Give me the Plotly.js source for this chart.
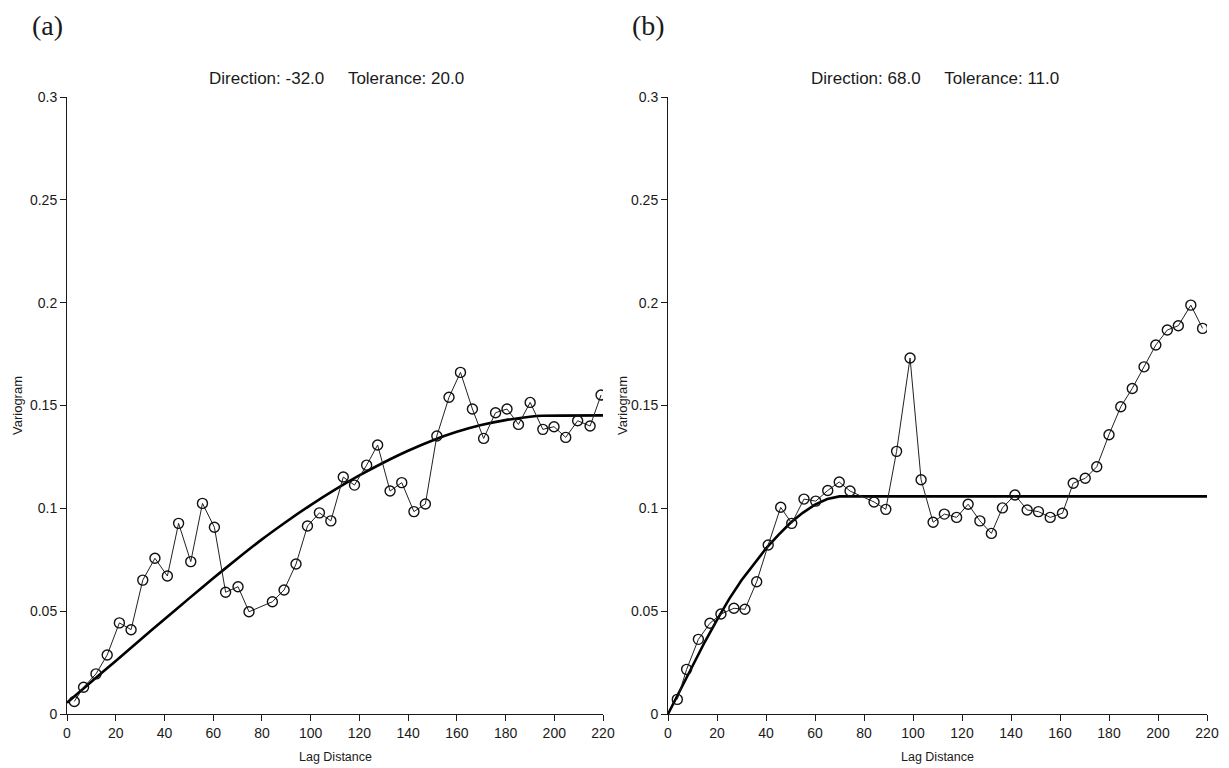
<!DOCTYPE html>
<html>
<head>
<meta charset="utf-8">
<script src="https://cdn.plot.ly/plotly-3.0.1.min.js"></script>
<style>html,body{margin:0;padding:0;background:#fff;}#chart{width:1229px;height:768px;}</style>
</head>
<body>
<div id="chart"></div>
<script>
// Panel (a): experimental variogram, Direction -32.0, Tolerance 20.0
var lagA = [3.0, 6.8, 11.9, 16.5, 21.5, 26.3, 31.1, 36.1, 41.2, 45.8, 50.8, 55.6, 60.5, 65.1, 70.2, 74.7,
            84.3, 89.1, 94.0, 98.7, 103.6, 108.3, 113.4, 118.0, 123.0, 127.5, 132.6, 137.4, 142.4, 147.1,
            151.8, 156.8, 161.5, 166.4, 171.0, 175.9, 180.6, 185.3, 190.1, 195.3, 199.9, 204.7, 209.6, 214.7, 219.2];
var gammaA = [0.0061, 0.0130, 0.0195, 0.0287, 0.0443, 0.0410, 0.0651, 0.0757, 0.0671, 0.0927, 0.0741, 0.1024, 0.0908, 0.0592, 0.0619, 0.0497,
              0.0546, 0.0603, 0.0729, 0.0914, 0.0978, 0.0939, 0.1152, 0.1113, 0.1210, 0.1308, 0.1084, 0.1125, 0.0984, 0.1021,
              0.1352, 0.1540, 0.1661, 0.1483, 0.1340, 0.1465, 0.1483, 0.1408, 0.1515, 0.1384, 0.1397, 0.1345, 0.1426, 0.1400, 0.1551];
// Panel (a): fitted model curve
var modelLagA = [0, 10, 20, 30, 40, 50, 60, 70, 80, 90, 100, 110, 120, 130, 140, 150, 160, 170, 180, 190, 195, 220];
var modelA = [0.0055, 0.0157, 0.0258, 0.0360, 0.0461, 0.0561, 0.0660, 0.0756, 0.0849, 0.0935, 0.1016, 0.1091, 0.1160, 0.1223, 0.1280, 0.1330, 0.1372, 0.1405, 0.1429, 0.1445, 0.1450, 0.1452];

// Panel (b): experimental variogram, Direction 68.0, Tolerance 11.0
var lagB = [3.8, 7.6, 12.4, 17.1, 21.6, 26.9, 31.4, 36.2, 40.9, 46.0, 50.5, 55.5, 60.3, 65.2, 69.9, 74.3,
            84.1, 88.9, 93.3, 98.8, 103.3, 108.2, 112.8, 117.8, 122.5, 127.3, 132.0, 136.5, 141.6, 146.6,
            151.2, 156.0, 161.0, 165.4, 170.3, 175.0, 180.0, 184.8, 189.5, 194.3, 199.1, 203.8, 208.3, 213.4, 218.2];
var gammaB = [0.0071, 0.0217, 0.0363, 0.0441, 0.0486, 0.0514, 0.0509, 0.0643, 0.0822, 0.1005, 0.0927, 0.1045, 0.1035, 0.1087, 0.1128, 0.1084,
              0.1031, 0.0995, 0.1277, 0.1731, 0.1139, 0.0932, 0.0972, 0.0956, 0.1020, 0.0939, 0.0878, 0.1002, 0.1065, 0.0992,
              0.0984, 0.0956, 0.0976, 0.1122, 0.1146, 0.1202, 0.1358, 0.1494, 0.1583, 0.1688, 0.1794, 0.1867, 0.1888, 0.1988, 0.1875];
// Panel (b): fitted model curve
var modelLagB = [0, 5, 10, 15, 20, 25, 30, 35, 40, 45, 50, 55, 60, 65, 68, 70, 220];
var modelB = [0, 0.0118, 0.0235, 0.0350, 0.0458, 0.0560, 0.0650, 0.0730, 0.0805, 0.0870, 0.0930, 0.0978, 0.1018, 0.1045, 0.1055, 0.1058, 0.1058];

var xTicks = [0, 20, 40, 60, 80, 100, 120, 140, 160, 180, 200, 220];
var yTicks = [0, 0.05, 0.1, 0.15, 0.2, 0.25, 0.3];
var yTickText = ['0', '0.05', '0.1', '0.15', '0.2', '0.25', '0.3'];
var panelLabels = ['(a)', '(b)'];
var panelTitles = ['Direction: -32.0\u00a0\u00a0\u00a0\u00a0\u00a0Tolerance: 20.0', 'Direction: 68.0\u00a0\u00a0\u00a0\u00a0\u00a0Tolerance: 11.0'];
var xTitle = 'Lag Distance';
var yTitle = 'Variogram';

var W = 1229, H = 768;
var sans = '"Liberation Sans", Arial, sans-serif';
var serif = '"Liberation Serif", "DejaVu Serif", serif';
var ink = '#1a1a1a';

function expTrace(x, y, xa, ya) {
  return {
    x: x, y: y, xaxis: xa, yaxis: ya, type: 'scatter', mode: 'lines+markers',
    line: {color: '#222', width: 1},
    marker: {symbol: 'circle-open', size: 10, color: '#111', line: {width: 1.4, color: '#111'}},
    hoverinfo: 'x+y', showlegend: false
  };
}
function modelTrace(x, y, xa, ya, shape) {
  return {
    x: x, y: y, xaxis: xa, yaxis: ya, type: 'scatter', mode: 'lines',
    line: {color: '#000', width: 2.6, shape: shape, smoothing: 0.5},
    hoverinfo: 'skip', showlegend: false
  };
}

var data = [
  modelTrace(modelLagA, modelA, 'x', 'y', 'spline'),
  expTrace(lagA, gammaA, 'x', 'y'),
  modelTrace(modelLagB, modelB, 'x2', 'y2', 'linear'),
  expTrace(lagB, gammaB, 'x2', 'y2')
];

function xAxis(domain, anchor) {
  return {
    domain: domain, anchor: anchor, range: [0, 220], autorange: false,
    tickmode: 'array', tickvals: xTicks, ticktext: xTicks.map(String),
    ticks: 'outside', ticklen: 6, tickwidth: 1, tickcolor: ink,
    showline: true, linecolor: ink, linewidth: 1, showgrid: false, zeroline: false,
    tickfont: {family: sans, size: 14, color: ink}, fixedrange: true
  };
}
function yAxis(domain, anchor) {
  return {
    domain: domain, anchor: anchor, range: [0, 0.3], autorange: false,
    tickmode: 'array', tickvals: yTicks, ticktext: yTickText,
    ticks: 'outside', ticklen: 6, tickwidth: 1, tickcolor: ink,
    showline: true, linecolor: ink, linewidth: 1, showgrid: false, zeroline: false,
    tickfont: {family: sans, size: 14, color: ink}, fixedrange: true
  };
}

var yDom = [(H - 714) / H, (H - 97) / H];
var xDomA = [67 / W, 603 / W];
var xDomB = [668 / W, 1207 / W];

function ann(text, xpx, ypx, opts) {
  var a = {text: text, xref: 'paper', yref: 'paper', x: xpx / W, y: 1 - ypx / H,
           xanchor: 'center', yanchor: 'middle', showarrow: false,
           font: {family: sans, size: 13, color: ink}};
  for (var k in opts) a[k] = opts[k];
  return a;
}

var layout = {
  width: W, height: H,
  margin: {l: 0, r: 0, t: 0, b: 0},
  paper_bgcolor: '#fff', plot_bgcolor: '#fff',
  xaxis: xAxis(xDomA, 'y'),
  yaxis: yAxis(yDom, 'x'),
  xaxis2: xAxis(xDomB, 'y2'),
  yaxis2: yAxis(yDom, 'x2'),
  annotations: [
    ann(panelLabels[0], 47, 25, {font: {family: serif, size: 28, color: ink}}),
    ann(panelLabels[1], 648, 25, {font: {family: serif, size: 28, color: ink}}),
    ann(panelTitles[0], 336, 78, {font: {family: sans, size: 17, color: ink}}),
    ann(panelTitles[1], 935, 78, {font: {family: sans, size: 17, color: ink}}),
    ann(xTitle, 335, 757, {font: {family: sans, size: 12.5, color: ink}}),
    ann(xTitle, 937, 757, {font: {family: sans, size: 12.5, color: ink}}),
    ann(yTitle, 17, 406, {textangle: -90}),
    ann(yTitle, 622, 406, {textangle: -90})
  ]
};

Plotly.newPlot('chart', data, layout, {displayModeBar: false, staticPlot: true});
</script>
</body>
</html>
